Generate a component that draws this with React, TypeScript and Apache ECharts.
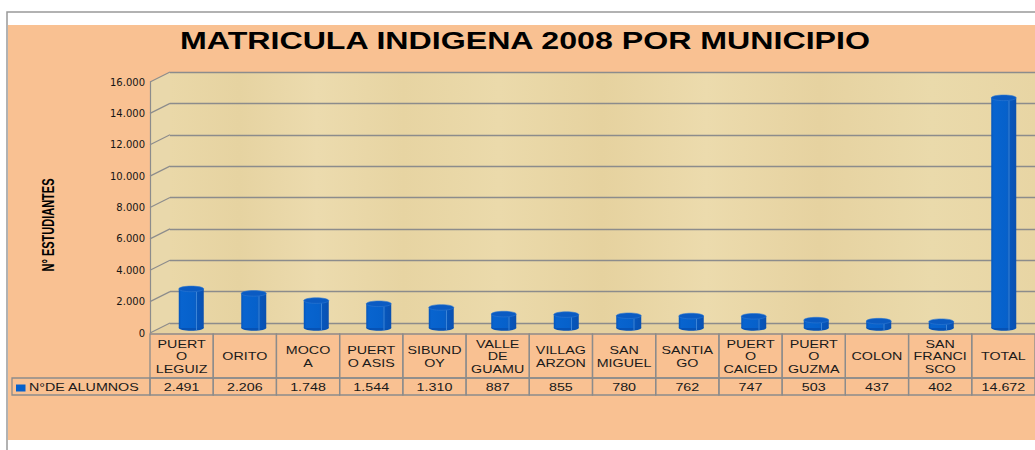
import { useEffect, useRef } from "react";
import * as echarts from "echarts";

const chartTitle = "MATRICULA INDIGENA 2008 POR MUNICIPIO";
const yAxisTitle = "N° ESTUDIANTES";
const seriesName = "N°DE ALUMNOS";
const categories = [
  "PUERT\nO\nLEGUIZ",
  "ORITO",
  "MOCO\nA",
  "PUERT\nO ASIS",
  "SIBUND\nOY",
  "VALLE\nDE\nGUAMU",
  "VILLAG\nARZON",
  "SAN\nMIGUEL",
  "SANTIA\nGO",
  "PUERT\nO\nCAICED",
  "PUERT\nO\nGUZMA",
  "COLON",
  "SAN\nFRANCI\nSCO",
  "TOTAL",
];
const values = [2491, 2206, 1748, 1544, 1310, 887, 855, 780, 762, 747, 503, 437, 402, 14672];
const yTicks = [0, 2000, 4000, 6000, 8000, 10000, 12000, 14000, 16000];
const yMin = 0;
const yMax = 16000;
const yInterval = 2000;

const fmt = (n: number) => String(n).replace(/\B(?=(\d{3})+(?!\d))/g, ".");

const GRID_W = 890.4;
const GRAY = "#8c8c8c";
const TABLE_FONT = '11px "Liberation Sans", Arial, sans-serif';

export default function App() {
  const ref = useRef<HTMLDivElement>(null);

  useEffect(() => {
    if (!ref.current) return;
    const chart = echarts.init(ref.current, null, { renderer: "svg" });

    const paper = new echarts.graphic.LinearGradient(0, 0, 1, 0, [
      { offset: 0, color: "#ead8a8" },
      { offset: 0.08, color: "#e6d3a1" },
      { offset: 0.17, color: "#ecdbae" },
      { offset: 0.27, color: "#e7d4a2" },
      { offset: 0.38, color: "#ebdaab" },
      { offset: 0.5, color: "#e6d29f" },
      { offset: 0.62, color: "#ecdbad" },
      { offset: 0.75, color: "#e6d2a0" },
      { offset: 0.88, color: "#eadaab" },
      { offset: 1, color: "#e8d5a4" },
    ]);

    const valueAxis = (gridIndex: number, extra: any) => ({
      type: "value",
      gridIndex,
      min: yMin,
      max: yMax,
      interval: yInterval,
      axisTick: { show: false },
      axisLabel: { show: false },
      axisLine: { show: false },
      splitLine: { show: false },
      ...extra,
    });

    const catAxis = (gridIndex: number) => ({
      type: "category",
      gridIndex,
      data: categories,
      show: false,
    });

    const option: any = {
      animation: false,
      backgroundColor: "#ffffff",
      grid: [
        { left: 150, top: 82, width: GRID_W, height: 251 },
        { left: 170, top: 72, width: 900, height: 251 },
        { left: 160, top: 77, width: GRID_W, height: 251 },
        { left: 150, top: 334, width: GRID_W, height: 61 },
      ],
      xAxis: [catAxis(0), catAxis(1), catAxis(2), catAxis(3)],
      yAxis: [
        valueAxis(0, {
          axisLine: { show: true, lineStyle: { color: GRAY, width: 1.2 } },
          axisLabel: {
            show: true,
            margin: 5,
            fontFamily: '"DejaVu Sans", sans-serif',
            fontSize: 10,
            color: "#151515",
            formatter: (v: number) => fmt(v),
          },
        }),
        valueAxis(1, {
          splitLine: { show: true, lineStyle: { color: GRAY, width: 1.3 } },
        }),
        valueAxis(2, {}),
        { type: "value", gridIndex: 3, min: 0, max: 1, show: false },
      ],
      series: [
        {
          type: "custom",
          name: "sideWallLines",
          xAxisIndex: 0,
          yAxisIndex: 0,
          silent: true,
          data: yTicks.map((v) => [0, v]),
          renderItem: (params: any, api: any) => {
            const p = api.coord([0, api.value(1)]);
            const x0 = params.coordSys.x;
            return {
              type: "line",
              shape: { x1: x0, y1: p[1], x2: x0 + 20, y2: p[1] - 10 },
              style: { stroke: GRAY, lineWidth: 1.2 },
            };
          },
        },
        {
          type: "custom",
          name: seriesName,
          xAxisIndex: 2,
          yAxisIndex: 2,
          data: values.map((v, i) => [i, v]),
          renderItem: (_params: any, api: any) => {
            const top = api.coord([api.value(0), api.value(1)]);
            const base = api.coord([api.value(0), 0]);
            const rx = 12.5;
            const ry = 2.8;
            const cx = top[0];
            return {
              type: "group",
              children: [
                {
                  type: "ellipse",
                  shape: { cx, cy: base[1], rx, ry },
                  style: { fill: "#0652b5" },
                },
                {
                  type: "rect",
                  shape: { x: cx - rx, y: top[1], width: rx * 2, height: base[1] - top[1] },
                  style: {
                    fill: {
                      type: "linear",
                      x: 0,
                      y: 0,
                      x2: 1,
                      y2: 0,
                      colorStops: [
                        { offset: 0, color: "#0556bb" },
                        { offset: 0.1, color: "#0864cf" },
                        { offset: 0.6, color: "#0661cb" },
                        { offset: 0.66, color: "#0a5fc6" },
                        { offset: 0.72, color: "#0657bd" },
                        { offset: 1, color: "#0a50b0" },
                      ],
                    },
                  },
                },
                {
                  type: "line",
                  shape: { x1: cx + rx * 0.42, y1: top[1] + ry, x2: cx + rx * 0.42, y2: base[1] + ry - 0.5 },
                  style: { stroke: "#4a8fdc", lineWidth: 0.8 },
                },
                {
                  type: "ellipse",
                  shape: { cx, cy: top[1], rx, ry },
                  style: { fill: "#0b5bc2", stroke: "#2f78d2", lineWidth: 0.6 },
                },
              ],
            };
          },
        },
        {
          type: "custom",
          name: "dataTable",
          xAxisIndex: 3,
          yAxisIndex: 3,
          silent: true,
          data: values.map((v, i) => [i, v]),
          renderItem: (params: any, api: any) => {
            const i = params.dataIndex;
            const c = api.coord([api.value(0), 0]);
            const band = api.size([1, 0])[0];
            const left = c[0] - band / 2;
            const top = params.coordSys.y;
            const h1 = 44;
            const h2 = 17;
            return {
              type: "group",
              children: [
                {
                  type: "rect",
                  shape: { x: left, y: top, width: band, height: h1 },
                  style: { fill: "none", stroke: GRAY, lineWidth: 1.3 },
                },
                {
                  type: "rect",
                  shape: { x: left, y: top + h1, width: band, height: h2 },
                  style: { fill: "none", stroke: GRAY, lineWidth: 1.3 },
                },
                {
                  type: "text",
                  x: c[0],
                  y: top + h1 / 2 + 0.5,
                  scaleX: 1.3,
                  style: {
                    text: categories[i],
                    x: 0,
                    y: 0,
                    align: "center",
                    verticalAlign: "middle",
                    font: TABLE_FONT,
                    lineHeight: 12.5,
                    fill: "#1a1a1a",
                  },
                },
                {
                  type: "text",
                  x: c[0],
                  y: top + h1 + h2 / 2 + 0.5,
                  scaleX: 1.3,
                  style: {
                    text: fmt(api.value(1)),
                    x: 0,
                    y: 0,
                    align: "center",
                    verticalAlign: "middle",
                    font: TABLE_FONT,
                    fill: "#1a1a1a",
                  },
                },
              ],
            };
          },
        },
      ],
      graphic: [
        {
          type: "rect",
          z: -20,
          silent: true,
          shape: { x: 8, y: 25, width: 1027, height: 415 },
          style: { fill: "#f9c192" },
        },
        {
          type: "rect",
          z: -10,
          silent: true,
          shape: { x: 170, y: 72, width: 865, height: 251 },
          style: { fill: paper },
        },
        {
          type: "polygon",
          z: -10,
          silent: true,
          shape: { points: [[150, 82], [170, 72], [170, 323], [150, 333]] },
          style: { fill: "#e9d8ab" },
        },
        {
          type: "polygon",
          z: -9,
          silent: true,
          shape: { points: [[150, 333], [170, 323], [1035, 323], [1035, 333]] },
          style: { fill: "#e5d1a0" },
        },
        {
          type: "polyline",
          z: 50,
          silent: true,
          shape: { points: [[7, 450], [7, 12], [1035, 12]] },
          style: { stroke: "#999999", lineWidth: 1.5, fill: "none" },
        },
        {
          type: "text",
          z: 60,
          x: 525,
          y: 41,
          scaleX: 1.34,
          style: {
            text: chartTitle,
            x: 0,
            y: 0,
            align: "center",
            verticalAlign: "middle",
            font: 'bold 24px "Liberation Sans", Arial, sans-serif',
            fill: "#000000",
          },
        },
        {
          type: "text",
          z: 60,
          x: 49,
          y: 225,
          rotation: Math.PI / 2,
          scaleY: 1.45,
          style: {
            text: yAxisTitle,
            x: 0,
            y: 0,
            align: "center",
            verticalAlign: "middle",
            font: 'bold 11px "Liberation Sans", Arial, sans-serif',
            fill: "#000000",
          },
        },
        {
          type: "rect",
          z: 40,
          silent: true,
          shape: { x: 12, y: 378, width: 138, height: 17 },
          style: { fill: "none", stroke: GRAY, lineWidth: 1.3 },
        },
        {
          type: "rect",
          z: 41,
          silent: true,
          shape: { x: 16, y: 384.5, width: 9.5, height: 7 },
          style: { fill: "#0660cb" },
        },
        {
          type: "text",
          z: 60,
          x: 29,
          y: 387.5,
          scaleX: 1.3,
          style: {
            text: seriesName,
            x: 0,
            y: 0,
            align: "left",
            verticalAlign: "middle",
            font: TABLE_FONT,
            fill: "#1a1a1a",
          },
        },
      ],
    };

    chart.setOption(option);
    return () => chart.dispose();
  }, []);

  return (
    <div
      ref={ref}
      style={{ position: "absolute", left: 0, top: 0, width: 1035, height: 450 }}
    />
  );
}
